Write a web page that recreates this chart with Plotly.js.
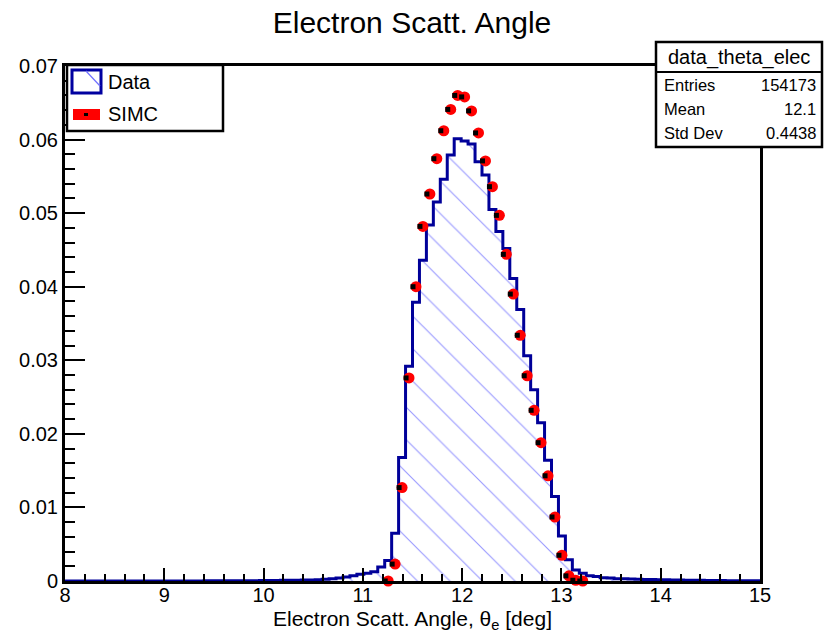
<!DOCTYPE html>
<html><head><meta charset="utf-8">
<script src="https://cdn.plot.ly/plotly-3.0.1.min.js"></script>
<style>html,body{margin:0;padding:0;background:#fff}#chart{width:824px;height:633px}</style>
</head><body><div id="chart"></div>
<script>
// ---- data ----
const binLow = 8.0;
const binWidth = 0.07;
const dataValues = [
  0,0,0,0,0,0,0,0,0,0,
  0,0,0,0,0,0,0,0,0,0,
  0.00002,0.00002,0.00003,0.00003,0.00004,0.00004,0.00005,0.00005,0.00006,0.00007,
  0.00008,0.00009,0.0001,0.0001,0.00012,0.00014,0.00017,0.00024,0.0003,0.00042,
  0.00055,0.0007,0.00092,0.00105,0.00125,0.0019,0.0028,0.0065,0.0168,0.0292,
  0.0379,0.0436,0.0484,0.0515,0.0546,0.0579,0.0601,0.0598,0.0594,0.0570,
  0.0552,0.0505,0.0475,0.0452,0.0411,0.0369,0.0306,0.0260,0.0215,0.0164,
  0.0115,0.0061,0.0029,0.0015,0.00105,0.0007,0.0006,0.00045,0.0004,0.00032,
  0.0003,0.00028,0.00024,0.00022,0.0002,0.00018,0.00016,0.00014,0.00012,0.00011,
  0.0001,0.00009,0.00008,0.00007,0.00006,0.00005,0.00005,0.00004,0.00004,0.00003
];
const simcFirstBin = 46;
const simcValues = [
  0.0000,0.0023,0.0127,0.0276,0.0400,0.0482,0.0526,0.0574,0.0612,0.0641,
  0.0660,0.0658,0.0639,0.0609,0.0571,0.0536,0.0497,0.0444,0.0390,0.0334,
  0.0279,0.0232,0.0188,0.0143,0.0087,0.0035,0.0007,0.0001,0.0000
];
const xTickVals = [8,9,10,11,12,13,14,15];
const yTickVals = [0,0.01,0.02,0.03,0.04,0.05,0.06,0.07];
const yTickText = ['0','0.01','0.02','0.03','0.04','0.05','0.06','0.07'];
const legendNames = ['Data','SIMC'];
const statsTitle = 'data_theta_elec';
const statsLabels = ['Entries','Mean','Std Dev'];
const statsValues = ['154173','12.1','0.4438'];
const titleText = 'Electron Scatt. Angle';
const xTitleText = 'Electron Scatt. Angle, θ<sub>e</sub> [deg]';

// ---- derived arrays ----
const edges = dataValues.map((_, i) => binLow + binWidth * i);
const histX = edges.concat([binLow + binWidth * dataValues.length]);
const histY = dataValues.concat([dataValues[dataValues.length - 1]]);
const simcX = simcValues.map((_, i) => binLow + binWidth * (simcFirstBin + i + 0.5));
const simcDotX = simcX.map(v => v - 0.03);

// ---- geometry helpers (pixel -> paper) ----
const W = 824, H = 633;
const X0 = 65, X1 = 760, YT = 66, YB = 581;
const px = p => (p - X0) / (X1 - X0);
const py = p => (YB - p) / (YB - YT);
const FONT = 'Liberation Sans, Arial, Helvetica, sans-serif';

const traces = [
  {
    type: 'scatter', mode: 'lines', name: legendNames[0],
    x: histX, y: histY,
    line: {shape: 'hv', color: '#000099', width: 3},
    fill: 'tozeroy', fillcolor: 'rgba(0,0,0,0)',
    fillpattern: {shape: '\\', fgcolor: '#9a9aff', bgcolor: 'rgba(0,0,0,0)', size: 23, solidity: 0.05},
    showlegend: false, hoverinfo: 'x+y'
  },
  {
    type: 'scatter', mode: 'markers', name: legendNames[1],
    x: simcX, y: simcValues,
    marker: {symbol: 'circle', size: 11, color: '#ff0000', line: {width: 0}},
    cliponaxis: false, showlegend: false
  },
  {
    type: 'scatter', mode: 'markers', name: legendNames[1] + ' ',
    x: simcDotX, y: simcValues,
    marker: {symbol: 'square', size: 5, color: '#000000', line: {width: 0}},
    cliponaxis: false, showlegend: false, hoverinfo: 'skip'
  }
];

const shapes = [];
const annotations = [];

// legend box (ROOT TLegend style)
shapes.push({type: 'rect', xref: 'paper', yref: 'paper', layer: 'above',
  x0: px(67), x1: px(223), y0: py(131), y1: py(65),
  line: {color: 'black', width: 2.5}, fillcolor: 'white'});
// Data icon
shapes.push({type: 'rect', xref: 'paper', yref: 'paper', layer: 'above',
  x0: px(72), x1: px(101), y0: py(93), y1: py(70),
  line: {color: '#0000a0', width: 3}, fillcolor: 'white'});
shapes.push({type: 'line', xref: 'paper', yref: 'paper', layer: 'above',
  x0: px(86), x1: px(100), y0: py(71), y1: py(86),
  line: {color: '#6f6fff', width: 1.2}});
// SIMC icon
shapes.push({type: 'rect', xref: 'paper', yref: 'paper', layer: 'above',
  x0: px(73), x1: px(100), y0: py(120), y1: py(109),
  line: {width: 0}, fillcolor: '#ff0000'});
shapes.push({type: 'rect', xref: 'paper', yref: 'paper', layer: 'above',
  x0: px(84), x1: px(88), y0: py(116), y1: py(113),
  line: {width: 0}, fillcolor: '#000000'});
annotations.push({xref: 'paper', yref: 'paper', x: px(106), y: py(82), xanchor: 'left', yanchor: 'middle',
  text: legendNames[0], showarrow: false, font: {family: FONT, size: 20, color: 'black'}});
annotations.push({xref: 'paper', yref: 'paper', x: px(106), y: py(114), xanchor: 'left', yanchor: 'middle',
  text: legendNames[1], showarrow: false, font: {family: FONT, size: 20, color: 'black'}});

// stats box
shapes.push({type: 'rect', xref: 'paper', yref: 'paper', layer: 'above',
  x0: px(656), x1: px(822), y0: py(147), y1: py(42),
  line: {color: 'black', width: 2.5}, fillcolor: 'white'});
shapes.push({type: 'line', xref: 'paper', yref: 'paper', layer: 'above',
  x0: px(656), x1: px(822), y0: py(72), y1: py(72),
  line: {color: 'black', width: 2}});
annotations.push({xref: 'paper', yref: 'paper', x: px(739), y: py(57), xanchor: 'center', yanchor: 'middle',
  text: statsTitle, showarrow: false, font: {family: FONT, size: 20, color: 'black'}});
const rowY = [85, 109, 133];
statsLabels.forEach((lab, i) => {
  annotations.push({xref: 'paper', yref: 'paper', x: px(662), y: py(rowY[i]), xanchor: 'left', yanchor: 'middle',
    text: lab, showarrow: false, font: {family: FONT, size: 16.5, color: 'black'}});
  annotations.push({xref: 'paper', yref: 'paper', x: px(818), y: py(rowY[i]), xanchor: 'right', yanchor: 'middle',
    text: statsValues[i], showarrow: false, font: {family: FONT, size: 16.5, color: 'black'}});
});

const layout = {
  width: W, height: H,
  margin: {l: X0, r: W - X1, t: YT, b: H - YB, pad: 0},
  paper_bgcolor: 'white', plot_bgcolor: 'white',
  font: {family: FONT, color: 'black'},
  title: {text: titleText, font: {family: FONT, size: 30, color: 'black'},
    xref: 'container', x: 0.5, xanchor: 'center', yref: 'container', y: 1 - 22 / H, yanchor: 'middle'},
  xaxis: {
    range: [8, 15], tickvals: xTickVals, ticktext: xTickVals.map(String),
    ticks: 'inside', ticklen: 13, tickwidth: 2, tickcolor: 'black',
    minor: {ticks: 'inside', ticklen: 7, tickwidth: 2, tickcolor: 'black', dtick: 0.2, showgrid: false},
    showline: true, linewidth: 3, linecolor: 'black', mirror: true,
    showgrid: false, zeroline: false,
    tickfont: {family: FONT, size: 20, color: 'black'},
    ticklabelstandoff: -6,
    title: {text: xTitleText, font: {family: FONT, size: 21, color: 'black'}, standoff: 20}
  },
  yaxis: {
    range: [0, 0.07], tickvals: yTickVals, ticktext: yTickText,
    ticks: 'inside', ticklen: 20, tickwidth: 2, tickcolor: 'black',
    minor: {ticks: 'inside', ticklen: 10, tickwidth: 2, tickcolor: 'black', dtick: 0.002, showgrid: false},
    showline: true, linewidth: 3, linecolor: 'black', mirror: true,
    showgrid: false, zeroline: false,
    tickfont: {family: FONT, size: 20, color: 'black'}
  },
  showlegend: false,
  shapes: shapes,
  annotations: annotations
};

Plotly.newPlot('chart', traces, layout, {displayModeBar: false, staticPlot: true});
</script>
</body></html>
